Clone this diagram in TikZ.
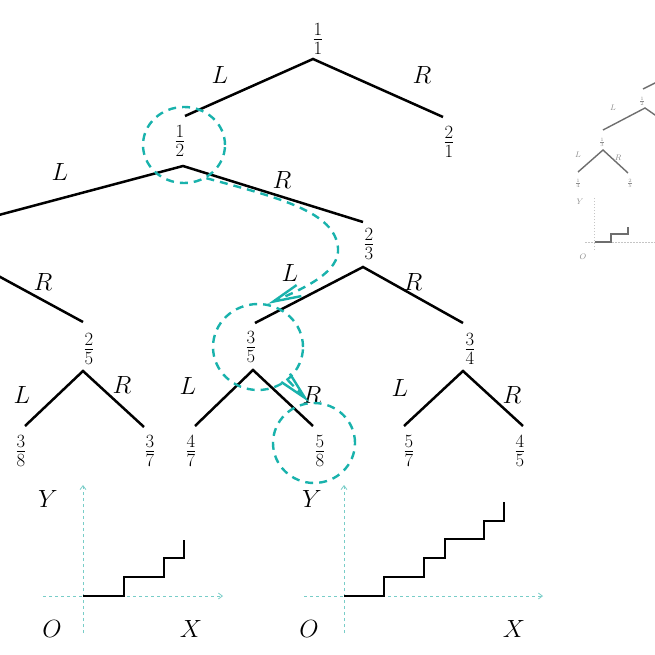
\documentclass[tikz,border=0pt]{standalone}
\usepackage{graphicx}
\usetikzlibrary{arrows.meta,shapes.geometric}
\definecolor{tealc}{RGB}{25,178,172}
\definecolor{axisc}{RGB}{120,205,200}
\definecolor{fade}{RGB}{110,110,110}
\definecolor{fadetext}{RGB}{140,140,140}
\newcommand{\bigfr}[2]{\scalebox{1.08}{$\frac{#1}{#2}$}}
\begin{document}
\begin{tikzpicture}[x=1pt,y=-1pt,
  frac/.style={font=\fontsize{24}{28}\selectfont, inner sep=0pt},
  lab/.style={font=\fontsize{23}{27}\selectfont, inner sep=0pt},
  edge/.style={line width=2.5pt},
  tealdash/.style={draw=tealc, line width=2.4pt, dash pattern=on 8pt off 6pt},
  ring/.style={tealdash, ellipse, inner sep=0pt},
  walk/.style={tealdash, -{Straight Barb[length=28pt,width=12pt]}},
  axis/.style={draw=axisc, line width=0.8pt, dash pattern=on 3pt off 3pt, -{Straight Barb[length=4pt,width=6pt]}},
  stair/.style={line width=2pt},
  tinyfrac/.style={font=\fontsize{6.5}{7}\selectfont, inner sep=0pt, text=fadetext},
  tinylab/.style={font=\fontsize{8.5}{9}\selectfont, inner sep=0pt, text=fadetext},
  thinedge/.style={draw=fade, line width=1.4pt},
  thinaxis/.style={draw=fade!40, line width=0.5pt, dash pattern=on 1.5pt off 1.5pt}
]
\useasboundingbox (0,0) rectangle (655,655);
\clip (0,0) rectangle (655,655);

% ---------- fractions ----------
\node[frac] (n11) at (318,39)  {\bigfr{1}{1}};
\node[frac] (n21) at (449,142) {\bigfr{2}{1}};
\node[frac] (n12) at (180,141) {\bigfr{1}{2}};
\node[frac] (n23) at (369,244) {\bigfr{2}{3}};
\node[frac] (n25) at (89,349)  {\bigfr{2}{5}};
\node[frac] (n35) at (251,347) {\bigfr{3}{5}};
\node[frac] (n34) at (470,349) {\bigfr{3}{4}};
\node[frac] (n38) at (21,451)  {\bigfr{3}{8}};
\node[frac] (n37) at (150,451) {\bigfr{3}{7}};
\node[frac] (n47) at (191,451) {\bigfr{4}{7}};
\node[frac] (n58) at (320,451) {\bigfr{5}{8}};
\node[frac] (n57) at (409,451) {\bigfr{5}{7}};
\node[frac] (n45) at (520,451) {\bigfr{4}{5}};

% ---------- edge points ----------
\coordinate (a11) at (313,59);
\coordinate (e12) at (185,116);
\coordinate (e21) at (443,117);
\coordinate (a12) at (183,166);
\coordinate (e13) at (-20,220);
\coordinate (e23) at (363,222);
\coordinate (a13) at (-20,266);
\coordinate (e25) at (83,322);
\coordinate (a23) at (363,267);
\coordinate (e35) at (255,323);
\coordinate (e34) at (463,323);
\coordinate (a25) at (83,371);
\coordinate (e38) at (25,426);
\coordinate (e37) at (144,427);
\coordinate (a35) at (253,370);
\coordinate (e47) at (195,426);
\coordinate (e58) at (313,426);
\coordinate (a34) at (463,371);
\coordinate (e57) at (404,426);
\coordinate (e45) at (523,426);

\draw[edge] (e12) -- (a11) -- (e21);
\draw[edge] (e13) -- (a12) -- (e23);
\draw[edge] (a13) -- (e25);
\draw[edge] (e35) -- (a23) -- (e34);
\draw[edge] (e38) -- (a25) -- (e37);
\draw[edge] (e47) -- (a35) -- (e58);
\draw[edge] (e57) -- (a34) -- (e45);

% ---------- L / R labels ----------
\node[lab] (l1) at (220,75)  {$L$};
\node[lab] (r1) at (422,75)  {$R$};
\node[lab] (l2) at (60,172)  {$L$};
\node[lab] (r2) at (282,180) {$R$};
\node[lab] (r3) at (43,282)  {$R$};
\node[lab] (l4) at (290,273) {$L$};
\node[lab] (r4) at (413,282) {$R$};
\node[lab] (l5) at (22,395)  {$L$};
\node[lab] (r5) at (122,385) {$R$};
\node[lab] (l6) at (188,386) {$L$};
\node[lab] (r6) at (312,395) {$R$};
\node[lab] (l7) at (400,388) {$L$};
\node[lab] (r7) at (512,395) {$R$};

% ---------- rings and walk ----------
\node[ring, minimum width=82pt, minimum height=76pt] (c12) at (184,145) {};
\node[ring, minimum width=90pt, minimum height=86pt] (c35) at (258,347) {};
\node[ring, minimum width=82pt, minimum height=80pt] (c58) at (314,443) {};
\coordinate (bend) at (338,248);
\draw[walk] (c12.-56) .. controls (280,198) and (335,212) .. (bend)
            .. controls (340,272) and (305,288) .. (c35.77);
\draw[walk] (c35.-48) -- (c58.97);

% ---------- left graph ----------
\coordinate (o1) at (83,596);
\coordinate (y1b) at (83,633);
\coordinate (y1t) at (83,485);
\coordinate (x1l) at (43,596);
\coordinate (x1r) at (223,596);
\draw[axis] (y1b) -- (y1t);
\draw[axis] (x1l) -- (x1r);
\draw[stair] (o1) -- ++(41,0) -- ++(0,-19) -- ++(40,0) -- ++(0,-19) -- ++(20,0) -- ++(0,-18);
\node[lab] (gy1) at (48,499)  {$Y$};
\node[lab] (go1) at (52,629)  {$O$};
\node[lab] (gx1) at (191,629) {$X$};

% ---------- right graph ----------
\coordinate (o2) at (344,596);
\coordinate (y2b) at (344,633);
\coordinate (y2t) at (344,485);
\coordinate (x2l) at (304,596);
\coordinate (x2r) at (543,596);
\draw[axis] (y2b) -- (y2t);
\draw[axis] (x2l) -- (x2r);
\draw[stair] (o2) -- ++(40,0) -- ++(0,-19) -- ++(40,0) -- ++(0,-19) -- ++(21,0) -- ++(0,-19)
   -- ++(39,0) -- ++(0,-18) -- ++(20,0) -- ++(0,-19);
\node[lab] (gy2) at (312,499) {$Y$};
\node[lab] (go2) at (309,629) {$O$};
\node[lab] (gx2) at (514,629) {$X$};

% ---------- faded inset ----------
\node[tinyfrac] (m12) at (642,101) {$\frac{1}{2}$};
\node[tinyfrac] (m13) at (602,142) {$\frac{1}{3}$};
\node[tinyfrac] (m14) at (578,183) {$\frac{1}{4}$};
\node[tinyfrac] (m25) at (630,183) {$\frac{2}{5}$};
\coordinate (ma0) at (643,89);
\coordinate (mt0) at (665,78);
\coordinate (ma1) at (645,108);
\coordinate (me1) at (603,130);
\coordinate (mr1) at (665,122);
\coordinate (ma2) at (603,150);
\coordinate (me2) at (578,172);
\coordinate (mr2) at (628,173);
\draw[thinedge] (ma0) -- (mt0);
\draw[thinedge] (me1) -- (ma1) -- (mr1);
\draw[thinedge] (me2) -- (ma2) -- (mr2);
\node[tinylab] (ml1) at (613,108) {$L$};
\node[tinylab] (ml2) at (578,155) {$L$};
\node[tinylab] (mr3) at (618,158) {$R$};
\node[tinylab] (my) at (580,202) {$Y$};
\node[tinylab] (mo) at (583,257) {$O$};
\coordinate (mo0) at (595,242);
\coordinate (myb) at (594,250);
\coordinate (myt) at (594,197);
\coordinate (mxl) at (585,242);
\coordinate (mxr) at (655,242);
\draw[thinaxis] (myb) -- (myt);
\draw[thinaxis] (mxl) -- (mxr);
\draw[draw=fade, line width=1.2pt] (mo0) -- ++(16,0) -- ++(0,-8) -- ++(17,0) -- ++(0,-7);
\end{tikzpicture}
\end{document}
